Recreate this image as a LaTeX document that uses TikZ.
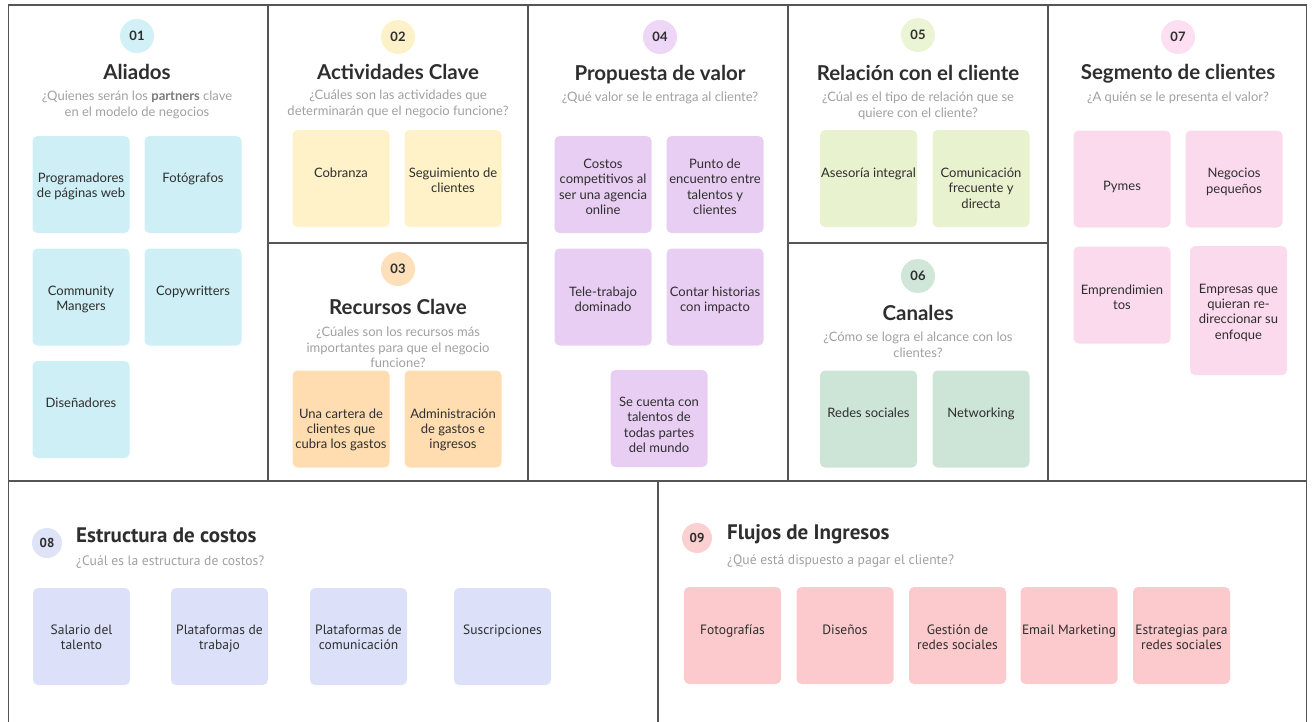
\documentclass[tikz,border=0pt]{standalone}
\usepackage{fontspec}
\setmainfont{Lato}
\newfontfamily\ptsans{PT Sans}
\usepackage{xcolor}
\usepackage{tikz}
\usetikzlibrary{positioning}

\definecolor{ink}{HTML}{2E2E2E}
\definecolor{qgray}{HTML}{A0A0A0}
\definecolor{qdark}{HTML}{7A7A7A}
\definecolor{framegray}{HTML}{555555}
\definecolor{aliF}{HTML}{CDEFF5}
\definecolor{aliC}{HTML}{D2F1F6}
\definecolor{actF}{HTML}{FFF1C8}
\definecolor{actC}{HTML}{FCF1C9}
\definecolor{recF}{HTML}{FFDDB1}
\definecolor{recC}{HTML}{FDDFB9}
\definecolor{proF}{HTML}{E9CEF3}
\definecolor{proC}{HTML}{EED6F7}
\definecolor{relF}{HTML}{E9F2CE}
\definecolor{relC}{HTML}{ECF4D6}
\definecolor{canF}{HTML}{CDE5D6}
\definecolor{canC}{HTML}{D0E6D9}
\definecolor{segF}{HTML}{FCDAEE}
\definecolor{segC}{HTML}{FCDFF0}
\definecolor{cosF}{HTML}{DCE1F9}
\definecolor{cosC}{HTML}{DFE3F8}
\definecolor{ingF}{HTML}{FCCACC}
\definecolor{ingC}{HTML}{FBD0D1}

\begin{document}
\begin{tikzpicture}[x=1pt, y=-1pt,
    frame/.style={draw=framegray, line width=1.1pt},
    badge/.style={circle, minimum size=34pt, inner sep=0pt, font=\bfseries\fontsize{13}{13}\selectfont, text=ink},
    heading/.style={anchor=base, inner sep=0pt, font=\bfseries\fontsize{20.5}{24}\selectfont, text=ink},
    question/.style={anchor=north, align=center, inner sep=0pt, font=\fontsize{13}{15.5}\selectfont, text=qgray},
    card/.style={rectangle, rounded corners=5pt, minimum width=97pt, minimum height=97pt, inner sep=0pt},
    cardtext/.style={align=center, inner sep=0pt, font=\fontsize{13}{15.3}\selectfont, text=ink},
    lowbadge/.style={badge, minimum size=30pt, font=\ptsans\bfseries\fontsize{13}{13}\selectfont},
    lowheading/.style={anchor=base west, inner sep=0pt, font=\ptsans\bfseries\fontsize{21}{24}\selectfont, text=ink},
    lowquestion/.style={anchor=base west, inner sep=0pt, font=\ptsans\fontsize{13.6}{15}\selectfont, text=qgray},
    lowtext/.style={cardtext, font=\ptsans\fontsize{13.5}{15}\selectfont},
  ]
    \useasboundingbox (0,0) rectangle (1314,721);

    % canvas grid
    \draw[frame, line width=1.4pt] (8.5,725) |- (1306.5,5) -- (1306.5,725);
    \draw[frame] (8.5,481) -- (1306.5,481);
    \draw[frame] (268,5) -- (268,481);
    \draw[frame] (528,5) -- (528,481);
    \draw[frame] (788,5) -- (788,481);
    \draw[frame] (1048,5) -- (1048,481);
    \draw[frame] (268,243) -- (528,243);
    \draw[frame] (788,243) -- (1048,243);
    \draw[frame] (658,481) -- (658,725);

    % 01 Aliados
    \node[badge, fill=aliC] (b01) at (137,36) {01};
    \node[heading] (h01) at (137,79) {Aliados};
    \node[question] (q01) at (137,91) {¿Quienes serán los {\color{qdark}\textbf{partners}} clave\\en el modelo de negocios};
    \node[card, fill=aliF] (ali1) at (81,184.5) {};
    \node[card, fill=aliF] (ali2) at (193,184.5) {};
    \node[card, fill=aliF] (ali3) at (81,297) {};
    \node[card, fill=aliF] (ali4) at (193,297) {};
    \node[card, fill=aliF] (ali5) at (81,409.5) {};
    \node[cardtext, below=37pt of ali1.north] (ali1t) {Programadores\\de páginas web};
    \node[cardtext, below=37pt of ali2.north] (ali2t) {Fotógrafos};
    \node[cardtext, below=37.5pt of ali3.north] (ali3t) {Community\\Mangers};
    \node[cardtext, below=37.5pt of ali4.north] (ali4t) {Copywritters};
    \node[cardtext, below=37pt of ali5.north] (ali5t) {Diseñadores};

    % 02 Actividades Clave
    \node[badge, fill=actC] (b02) at (398,37) {02};
    \node[heading] (h02) at (398,79) {Actividades Clave};
    \node[question] (q02) at (398,90) {¿Cuáles son las actividades que\\determinarán que el negocio funcione?};
    \node[card, fill=actF] (act1) at (341,178.5) {};
    \node[card, fill=actF] (act2) at (453,178.5) {};
    \node[cardtext, below=38pt of act1.north] (act1t) {Cobranza};
    \node[cardtext, below=38pt of act2.north] (act2t) {Seguimiento de\\clientes};

    % 03 Recursos Clave
    \node[badge, fill=recC] (b03) at (398,269) {03};
    \node[heading] (h03) at (398,314) {Recursos Clave};
    \node[question] (q03) at (398,327) {¿Cúales son los recursos más\\importantes para que el negocio\\funcione?};
    \node[card, fill=recF] (rec1) at (341,419) {};
    \node[card, fill=recF] (rec2) at (453,419) {};
    \node[cardtext, below=38pt of rec1.north] (rec1t) {Una cartera de\\clientes que\\cubra los gastos};
    \node[cardtext, below=38pt of rec2.north] (rec2t) {Administración\\de gastos e\\ingresos};

    % 04 Propuesta de valor
    \node[badge, fill=proC] (b04) at (660,37) {04};
    \node[heading] (h04) at (660,80) {Propuesta de valor};
    \node[question] (q04) at (660,92) {¿Qué valor se le entraga al cliente?};
    \node[card, fill=proF] (pro1) at (603,184.5) {};
    \node[card, fill=proF] (pro2) at (715,184.5) {};
    \node[card, fill=proF] (pro3) at (603,297) {};
    \node[card, fill=proF] (pro4) at (715,297) {};
    \node[card, fill=proF] (pro5) at (659,418.5) {};
    \node[cardtext, below=23pt of pro1.north] (pro1t) {Costos\\competitivos al\\ser una agencia\\online};
    \node[cardtext, below=23pt of pro2.north] (pro2t) {Punto de\\encuentro entre\\talentos y\\clientes};
    \node[cardtext, below=38pt of pro3.north] (pro3t) {Tele-trabajo\\dominado};
    \node[cardtext, below=38pt of pro4.north] (pro4t) {Contar historias\\con impacto};
    \node[cardtext, below=27pt of pro5.north] (pro5t) {Se cuenta con\\talentos de\\todas partes\\del mundo};

    % 05 Relacion con el cliente
    \node[badge, fill=relC] (b05) at (918,35) {05};
    \node[heading] (h05) at (918,80) {Relación con el cliente};
    \node[question] (q05) at (918,92) {¿Cúal es el tipo de relación que se\\quiere con el cliente?};
    \node[card, fill=relF] (rel1) at (868.5,178.5) {};
    \node[card, fill=relF] (rel2) at (981,178.5) {};
    \node[cardtext, below=38pt of rel1.north] (rel1t) {Asesoría integral};
    \node[cardtext, below=38pt of rel2.north] (rel2t) {Comunicación\\frecuente y\\directa};

    % 06 Canales
    \node[badge, fill=canC] (b06) at (918,276) {06};
    \node[heading] (h06) at (918,320) {Canales};
    \node[question] (q06) at (918,332) {¿Cómo se logra el alcance con los\\clientes?};
    \node[card, fill=canF] (can1) at (868.5,419) {};
    \node[card, fill=canF] (can2) at (981,419) {};
    \node[cardtext, below=37pt of can1.north] (can1t) {Redes sociales};
    \node[cardtext, below=37pt of can2.north] (can2t) {Networking};

    % 07 Segmento de clientes
    \node[badge, fill=segC] (b07) at (1178,37) {07};
    \node[heading] (h07) at (1178,79) {Segmento de clientes};
    \node[question] (q07) at (1178,92) {¿A quién se le presenta el valor?};
    \node[card, fill=segF] (seg1) at (1122,179) {};
    \node[card, fill=segF] (seg2) at (1234,179) {};
    \node[card, fill=segF] (seg3) at (1122,295) {};
    \node[card, fill=segF, minimum height=129pt] (seg4) at (1238.5,310.5) {};
    \node[cardtext, below=51pt of seg1.north] (seg1t) {Pymes};
    \node[cardtext, below=38pt of seg2.north] (seg2t) {Negocios\\pequeños};
    \node[cardtext, below=38pt of seg3.north] (seg3t) {Emprendimien\\tos};
    \node[cardtext, below=38pt of seg4.north] (seg4t) {Empresas que\\quieran re-\\direccionar su\\enfoque};

    % 08 Estructura de costos
    \node[lowbadge, fill=cosC] (b08) at (47,543) {08};
    \node[lowheading] (h08) at (76,542) {Estructura de costos};
    \node[lowquestion] (q08) at (76,565) {¿Cuál es la estructura de costos?};
    \node[card, fill=cosF] (cos1) at (81.5,636.5) {};
    \node[card, fill=cosF] (cos2) at (219.5,636.5) {};
    \node[card, fill=cosF] (cos3) at (358.5,636.5) {};
    \node[card, fill=cosF] (cos4) at (502.5,636.5) {};
    \node[lowtext, below=37pt of cos1.north] (cos1t) {Salario del\\talento};
    \node[lowtext, below=37pt of cos2.north] (cos2t) {Plataformas de\\trabajo};
    \node[lowtext, below=37pt of cos3.north] (cos3t) {Plataformas de\\comunicación};
    \node[lowtext, below=37pt of cos4.north] (cos4t) {Suscripciones};

    % 09 Flujos de Ingresos
    \node[lowbadge, fill=ingC] (b09) at (697,538) {09};
    \node[lowheading] (h09) at (727,539) {Flujos de Ingresos};
    \node[lowquestion] (q09) at (727,564) {¿Qué está dispuesto a pagar el cliente?};
    \node[card, fill=ingF] (ing1) at (732.5,635.5) {};
    \node[card, fill=ingF] (ing2) at (845,635.5) {};
    \node[card, fill=ingF] (ing3) at (957.5,635.5) {};
    \node[card, fill=ingF] (ing4) at (1069,635.5) {};
    \node[card, fill=ingF] (ing5) at (1181.5,635.5) {};
    \node[lowtext, below=38pt of ing1.north] (ing1t) {Fotografías};
    \node[lowtext, below=38pt of ing2.north] (ing2t) {Diseños};
    \node[lowtext, below=38pt of ing3.north] (ing3t) {Gestión de\\redes sociales};
    \node[lowtext, below=38pt of ing4.north] (ing4t) {Email Marketing};
    \node[lowtext, below=38pt of ing5.north] (ing5t) {Estrategias para\\redes sociales};
\end{tikzpicture}
\end{document}
